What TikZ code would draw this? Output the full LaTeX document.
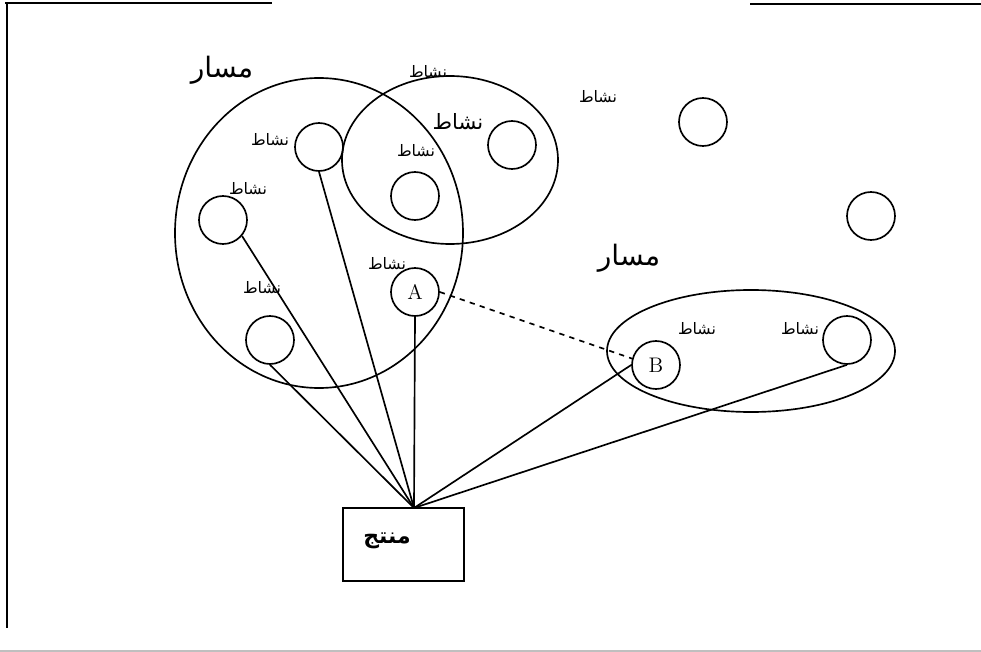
\documentclass[tikz,border=0pt]{standalone}
\usepackage{fontspec}
\newfontfamily\arabicfont[Script=Arabic]{DejaVu Sans}
\TeXXeTstate=1
\newcommand{\artext}[1]{\arabicfont\beginR #1\endR}
\tikzset{
  act/.style={circle,draw,minimum size=0.96cm,inner sep=0pt,font=\fontsize{12}{14}\selectfont},
  lbl/.style={inner sep=0pt,font=\fontsize{9}{11}\selectfont},
  biglbl/.style={inner sep=0pt,font=\fontsize{16}{19}\selectfont},
}
\begin{document}
\begin{tikzpicture}[x=0.02cm,y=-0.02cm,line width=0.95pt]
    \useasboundingbox (0,0) rectangle (981,652);
    % page edges
    \draw (5,3) -- (272,3);
    \draw (7,3) -- (7,628);
    \draw (750,4) -- (981,4);
    \draw[line width=0.6pt,gray!50] (0,651) -- (981,651);
    % the three paths
    \draw (319,233) ellipse [x radius=144, y radius=155];
    \draw (450,160) ellipse [x radius=108, y radius=84];
    \draw (751,351) ellipse [x radius=144, y radius=61];
    \node[biglbl] (path1) at (222,70) {\artext{مسار}};
    \node[biglbl] (path2) at (629,258) {\artext{مسار}};
    % activities
    \node[act] (c1) at (319,147) {};
    \node[act] (c2) at (223,220) {};
    \node[act] (c3) at (270,340) {};
    \node[act] (A)  at (415,292) {A};
    \node[act] (c5) at (415,196) {};
    \node[act] (c6) at (512,145) {};
    \node[act] (c7) at (703,122) {};
    \node[act] (c8) at (871,216) {};
    \node[act] (B)  at (656,365) {B};
    \node[act] (c10) at (847,340) {};
    \node[lbl] at (270,140) {\artext{نشاط}};
    \node[lbl] at (248,189) {\artext{نشاط}};
    \node[lbl] at (262,288) {\artext{نشاط}};
    \node[lbl] at (387,264) {\artext{نشاط}};
    \node[lbl] at (428,72) {\artext{نشاط}};
    \node[lbl,font=\fontsize{12}{14}\selectfont] at (458,122) {\artext{نشاط}};
    \node[lbl] at (416,151) {\artext{نشاط}};
    \node[lbl] at (598,97) {\artext{نشاط}};
    \node[lbl] at (697,329) {\artext{نشاط}};
    \node[lbl] at (800,329) {\artext{نشاط}};
    % product
    \node[draw,minimum width=2.42cm,minimum height=1.46cm] (prod) at (403.5,544.5) {};
    \node[inner sep=0pt,font=\bfseries\fontsize{12.5}{14}\selectfont] (prodtxt) at (387,541) {\artext{منتج}};
    \coordinate (tip) at (414,508);
    \draw (c3.south) -- (tip);
    \draw (c2.-40) -- (tip);
    \draw (c1.south) -- (tip);
    \draw (A.south) -- (tip);
    \draw (B.west) -- (tip);
    \draw (c10.south) -- (tip);
    \draw[dashed] (A.east) -- (B.165);
\end{tikzpicture}
\end{document}
